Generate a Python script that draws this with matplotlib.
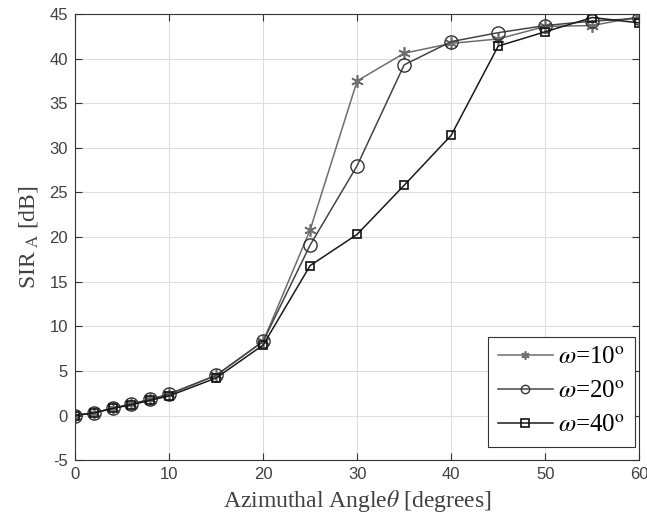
import matplotlib
matplotlib.use("Agg")
from matplotlib import pyplot as plt

# Azimuthal angle samples [degrees]
theta = [0, 2, 4, 6, 8, 10, 15, 20, 25, 30, 35, 40, 45, 50, 55, 60]

# SIR_A [dB] for the three beam widths
sir_w10 = [0.0, 0.3, 0.8, 1.3, 1.8, 2.4, 4.5, 8.3, 20.8, 37.5, 40.6, 41.7, 42.2, 43.6, 43.7, 44.7]
sir_w20 = [0.0, 0.3, 0.8, 1.3, 1.8, 2.4, 4.5, 8.3, 19.1, 28.0, 39.3, 41.9, 42.9, 43.7, 44.2, 44.5]
sir_w40 = [0.0, 0.3, 0.8, 1.2, 1.7, 2.2, 4.2, 7.9, 16.8, 20.3, 25.8, 31.4, 41.4, 43.0, 44.6, 44.0]

labels = [r'$\omega$=10$^{\rm o}$', r'$\omega$=20$^{\rm o}$', r'$\omega$=40$^{\rm o}$']

plt.rcParams['mathtext.fontset'] = 'stix'
plt.rcParams['axes.unicode_minus'] = False
txt = '#404040'

fig = plt.figure(figsize=(6.47, 5.17), dpi=100)
ax = fig.add_axes([0.116, 0.11, 0.872, 0.863])

ax.plot(theta, sir_w10, color='#6e6e6e', lw=1.1, marker=(6, 2, 0), ms=9,
        markeredgewidth=1.2, markeredgecolor='#6e6e6e', label=labels[0])
ax.plot(theta, sir_w20, color='#444444', lw=1.1, marker='o', ms=9.5,
        markerfacecolor='none', markeredgecolor='#333333', label=labels[1])
ax.plot(theta, sir_w40, color='#1a1a1a', lw=1.1, marker='s', ms=6,
        markerfacecolor='none', markeredgecolor='#111111', markeredgewidth=1.2,
        label=labels[2])

ax.set_xlim(0, 60)
ax.set_ylim(-5, 45)
ax.set_xticks(range(0, 61, 10))
ax.set_yticks(range(-5, 46, 5))
ax.grid(True, color='#dedede', lw=0.8)
ax.set_axisbelow(True)

for side in ax.spines.values():
    side.set_color('#333333')
    side.set_linewidth(0.8)
ax.tick_params(direction='in', length=5, width=0.8, colors='#333333',
               labelcolor=txt, labelsize=12, top=True, right=True, pad=5)
for lab in ax.get_xticklabels() + ax.get_yticklabels():
    lab.set_family('Liberation Sans')

ax.set_xlabel(r'Azimuthal Angle$\it{\theta}$ [degrees]', family='Liberation Serif',
              fontsize=17, color=txt, labelpad=4)
ax.set_ylabel(r'SIR$_{\ \rm A}$ [dB]', family='Liberation Serif',
              fontsize=17, color=txt, labelpad=7)

leg = ax.legend(loc='lower right', bbox_to_anchor=(0.992, 0.03),
                prop={'family': 'Liberation Serif', 'size': 18},
                fancybox=False, edgecolor='#333333', framealpha=1,
                handlelength=2.2, borderaxespad=0, labelspacing=0.45,
                handletextpad=0.2, borderpad=0.4)
leg.get_frame().set_linewidth(0.8)
for h in leg.legend_handles:
    h.set_markersize(6)

fig.savefig('out.png', dpi=100)
